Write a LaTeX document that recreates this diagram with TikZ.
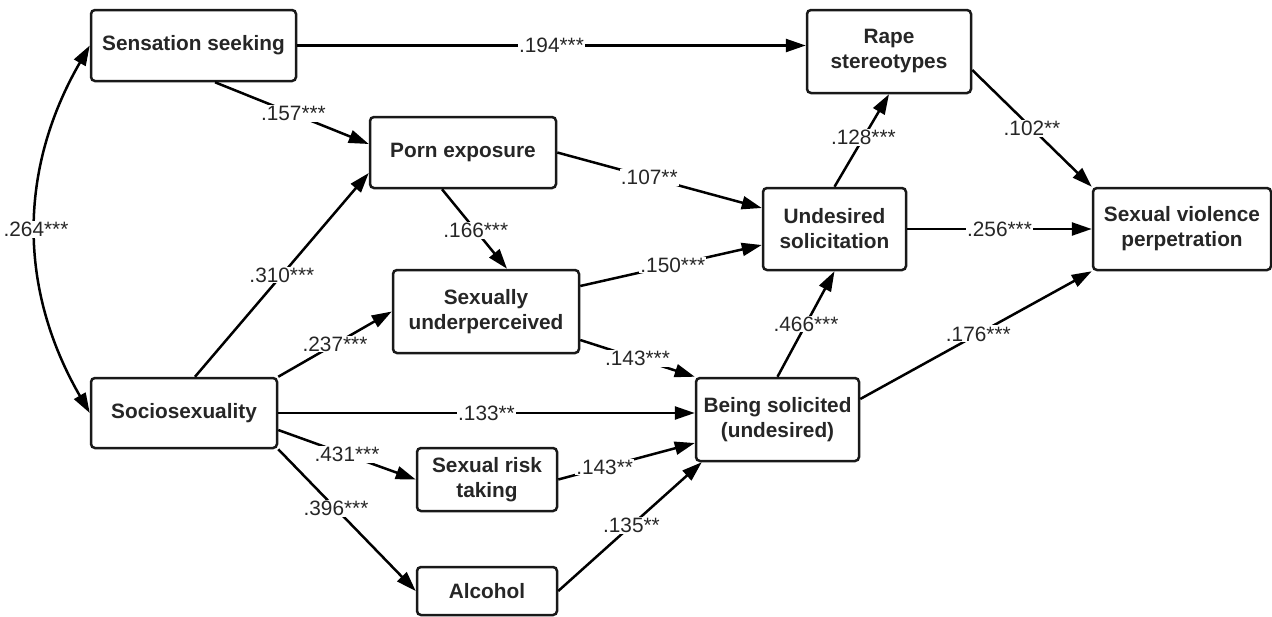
\documentclass[tikz,border=0pt]{standalone}
\usepackage{fontspec}
\setmainfont{Liberation Sans}
\usetikzlibrary{arrows.meta,calc}
\tikzstyle{var}=[shape=rectangle,
                draw=black!90,
                rounded corners=4pt,
                line width=2.5pt,
                align=center,
                inner sep=0pt,
                text=black!85,
                font=\bfseries\fontsize{20.8}{25}\selectfont]
\tikzstyle{coef}=[fill=white,
                inner sep=1pt,
                text=black!85,
                font=\fontsize{20.8}{25}\selectfont]

\begin{document}
\begin{tikzpicture}[x=1pt,y=-1pt,>={Triangle[length=20pt,width=13pt]},line width=2.5pt]
\useasboundingbox (0,0) rectangle (1272,616);

% predictor nodes
\node[var,minimum width=205,minimum height=71] (ss) at (193.5,45.5) {Sensation seeking};
\node[var,minimum width=186,minimum height=70] (socio) at (184,413) {Sociosexuality};

% mediator nodes
\node[var,minimum width=186,minimum height=71] (porn) at (463,152.5) {Porn exposure};
\node[var,minimum width=186,minimum height=83] (sup) at (486,311.5) {Sexually\\underperceived};
\node[var,minimum width=140,minimum height=63] (risk) at (487,479.5) {Sexual risk\\taking};
\node[var,minimum width=140,minimum height=48] (alc) at (487,591) {Alcohol};
\node[var,minimum width=163,minimum height=83] (bs) at (777.5,419.5) {Being solicited\\(undesired)};
\node[var,minimum width=143,minimum height=82] (und) at (834.5,229) {Undesired\\solicitation};
\node[var,minimum width=164,minimum height=83] (rape) at (889,51.5) {Rape\\stereotypes};

% outcome node
\node[var,minimum width=178,minimum height=82] (svp) at (1182,229) {Sexual violence\\perpetration};

% covariance between predictors
\path[<->] (ss.west) edge[bend right=30] node[coef] {.264***} (socio.west);

% paths from sensation seeking and sociosexuality
\path[->] (ss.east) edge node[coef] {.194***} (ss.east -| rape.west)
          ($(ss.south)+(21.5,0)$) edge node[coef,pos=0.51] {.157***} ($(porn.west)+(0,-8.5)$)
          ($(socio.north)+(11,0)$) edge node[coef] {.310***} ($(porn.west)+(0,20.5)$)
          (socio.north east) edge node[coef] {.237***} (sup.west)
          (socio.east) edge node[coef] {.133**} (socio.east -| bs.west)
          ($(socio.east)+(0,17)$) edge node[coef] {.431***} (risk.west)
          (socio.south east) edge node[coef,pos=0.42] {.396***} (alc.west);

% paths between mediators
\path[->] ($(porn.south)+(-21,0)$) edge node[coef,pos=0.52] {.166***} ($(sup.north)+(21,0)$)
          (porn.east) edge node[coef,pos=0.45] {.107**} ($(und.west)+(0,-21)$)
          ($(sup.east)+(0,-25.5)$) edge node[coef,pos=0.51] {.150***} ($(und.west)+(0,16)$)
          ($(sup.east)+(0,28.5)$) edge node[coef] {.143***} (bs.north west)
          (risk.east) edge node[coef,pos=0.34] {.143**} ($(bs.west)+(0,23.5)$)
          (alc.east) edge node[coef,pos=0.51] {.135**} ($(bs.south west)+(7,0)$)
          (bs.north) edge node[coef] {.466***} (und.south)
          (und.north) edge node[coef,pos=0.53] {.128***} (rape.south);

% paths into sexual violence perpetration
\path[->] ($(rape.east)+(0,18.5)$) edge node[coef] {.102**} (svp.north west)
          (und.east) edge node[coef] {.256***} (svp.west)
          ($(bs.east)+(0,-20.5)$) edge node[coef,pos=0.51] {.176***} (svp.south west);
\end{tikzpicture}
\end{document}
